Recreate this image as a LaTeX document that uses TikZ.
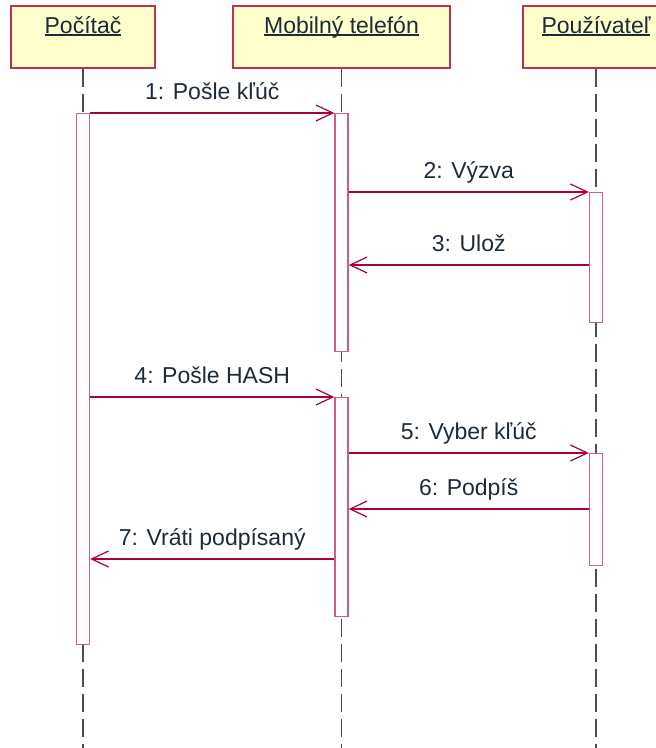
\documentclass[tikz,border=0pt]{standalone}
\usepackage{fontspec}
\setmainfont{Liberation Sans}
\usetikzlibrary{arrows.meta,positioning}
\definecolor{actorfill}{RGB}{255,255,204}
\definecolor{actorline}{RGB}{192,48,82}
\definecolor{barline}{RGB}{204,96,128}
\definecolor{msgline}{RGB}{168,0,60}
\definecolor{labeltext}{RGB}{28,42,58}
\definecolor{lifegray}{RGB}{78,78,78}

% underline at a fixed depth, so descenders do not push it down
\newcommand{\actorname}[1]{\setbox0=\hbox{#1}\rlap{\rule[-2.6pt]{\wd0}{1.6pt}}\box0}

\begin{document}
\begin{tikzpicture}[x=1pt, y=-1pt, >={Straight Barb[length=17pt,width=16pt]},
    font=\fontsize{23}{27}\selectfont,
    actor/.style={draw=actorline, fill=actorfill, line width=1.4pt, text=labeltext,
        minimum height=62pt, text height=18pt, text depth=26pt, inner ysep=9pt},
    lifeline/.style={draw=lifegray, line width=1.3pt, dash pattern=on 18pt off 7pt},
    actbar/.style={draw=barline, fill=white, line width=1.4pt, anchor=north,
        minimum width=13pt, inner sep=0pt},
    msg/.style={->, draw=msgline, line width=1.2pt},
    msglabel/.style={midway, above, text=labeltext, inner xsep=0pt, inner ysep=13pt, text depth=0pt}]
    \useasboundingbox (0,0) rectangle (656,748);

    % message rows
    \coordinate (m1) at (0,113);
    \coordinate (m2) at (0,192);
    \coordinate (m3) at (0,265);
    \coordinate (m4) at (0,397);
    \coordinate (m5) at (0,453);
    \coordinate (m6) at (0,509);
    \coordinate (m7) at (0,559);
    \coordinate (bottom) at (0,748);

    % objects
    \node[actor, minimum width=144pt] (pc) at (83,37) {\actorname{Počítač}};
    \node[actor, minimum width=217pt] (mob) at (341.5,37) {\actorname{Mobilný telefón}};
    \node[actor, minimum width=146pt] (user) at (596,37) {\actorname{Používateľ}};

    % lifelines
    \draw[lifeline] (pc.south) -- (pc.south |- bottom);
    \draw[lifeline] (mob.south) -- (mob.south |- bottom);
    \draw[lifeline] (user.south) -- (user.south |- bottom);

    % activations
    \node[actbar, minimum height=531pt] (pcbar) at (pc.south |- m1) {};
    \node[actbar, minimum height=238pt] (mobbar1) at (mob.south |- m1) {};
    \node[actbar, minimum height=219pt] (mobbar2) at (mob.south |- m4) {};
    \node[actbar, minimum height=130pt] (userbar1) at (user.south |- m2) {};
    \node[actbar, minimum height=112pt] (userbar2) at (user.south |- m5) {};

    % messages
    \draw[msg] (pcbar.east |- m1) -- (mobbar1.west |- m1) node[msglabel] {1: Pošle kľúč};
    \draw[msg] (mobbar1.east |- m2) -- (userbar1.west |- m2) node[msglabel] {2: Výzva};
    \draw[msg] (userbar1.west |- m3) -- (mobbar1.east |- m3) node[msglabel] {3: Ulož};
    \draw[msg] (pcbar.east |- m4) -- (mobbar2.west |- m4) node[msglabel] {4: Pošle HASH};
    \draw[msg] (mobbar2.east |- m5) -- (userbar2.west |- m5) node[msglabel] {5: Vyber kľúč};
    \draw[msg] (userbar2.west |- m6) -- (mobbar2.east |- m6) node[msglabel] {6: Podpíš};
    \draw[msg] (mobbar2.west |- m7) -- (pcbar.east |- m7) node[msglabel] {7: Vráti podpísaný};
\end{tikzpicture}
\end{document}
